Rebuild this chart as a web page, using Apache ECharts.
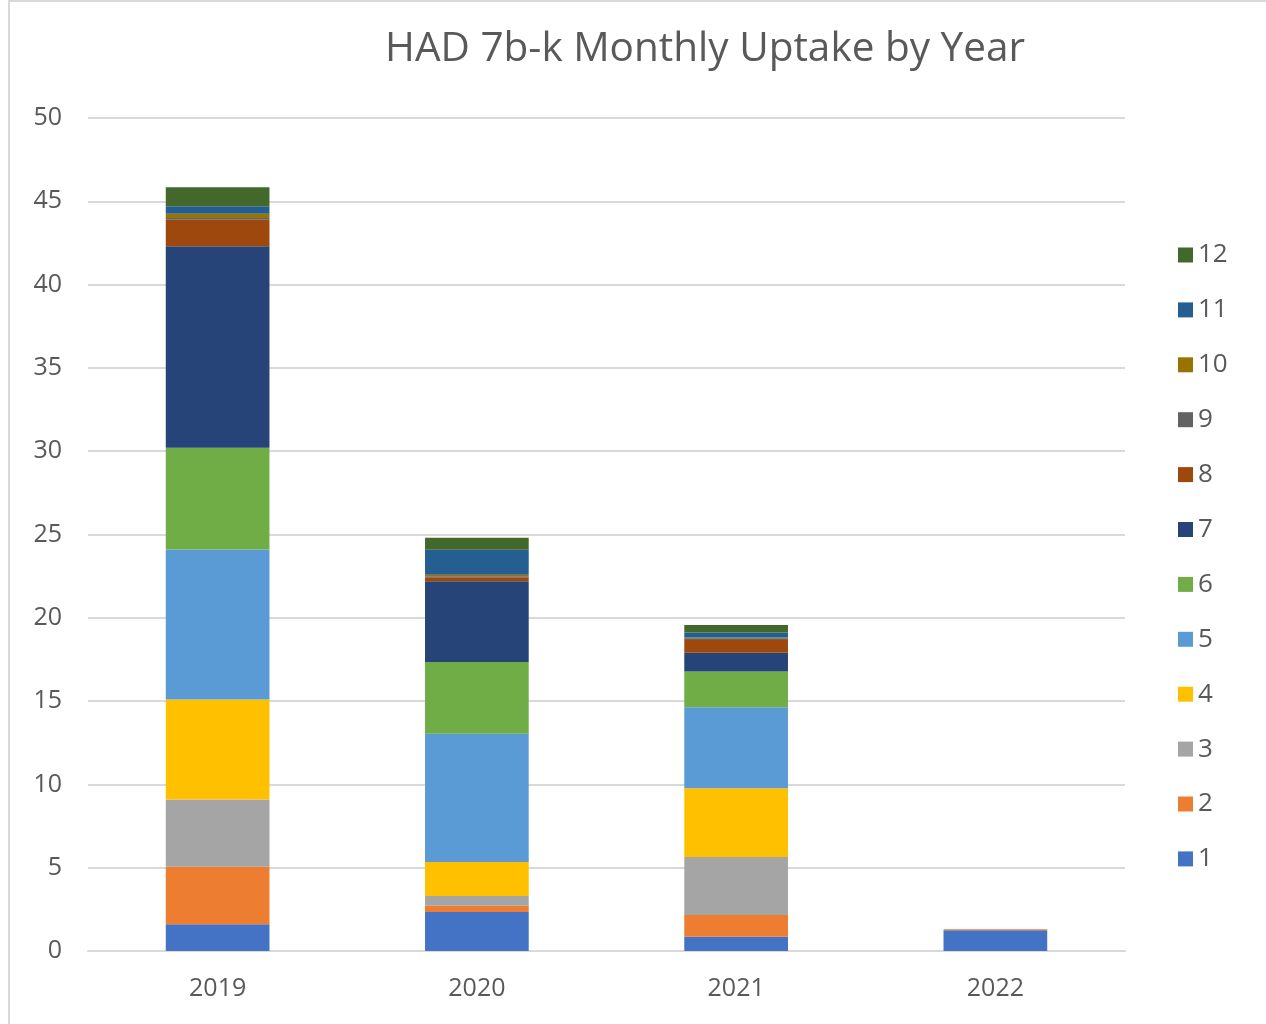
<!DOCTYPE html>
<html><head><meta charset="utf-8">
<script src="https://cdn.jsdelivr.net/npm/echarts@6/dist/echarts.min.js"></script>
<style>html,body{margin:0;padding:0;background:#fff}#c{width:1266px;height:1024px}</style>
</head><body><div id="c"></div>
<script>
const years = ['2019','2020','2021','2022'];
const months = ['1','2','3','4','5','6','7','8','9','10','11','12'];
const m1  = [1.6, 2.34, 0.86, 1.24];
const m2  = [3.45, 0.38, 1.3, 0.06];
const m3  = [4.05, 0.58, 3.48, 0];
const m4  = [6.0, 2.04, 4.13, 0];
const m5  = [9.0, 7.7, 4.86, 0];
const m6  = [6.1, 4.3, 2.14, 0];
const m7  = [12.1, 4.85, 1.13, 0];
const m8  = [1.6, 0.25, 0.77, 0];
const m9  = [0.1, 0.05, 0.1, 0];
const m10 = [0.25, 0.1, 0.05, 0];
const m11 = [0.45, 1.5, 0.3, 0];
const m12 = [1.15, 0.72, 0.45, 0];
const yTicks = [0,5,10,15,20,25,30,35,40,45,50];
const seriesData = [m1,m2,m3,m4,m5,m6,m7,m8,m9,m10,m11,m12];
const colors = ['#4472C4','#ED7D31','#A5A5A5','#FFC000','#5B9BD5','#70AD47','#264478','#9E480E','#636363','#997300','#255E91','#43682B'];

const chart = echarts.init(document.getElementById('c'));
chart.setOption({
  animation:false,
  title:{text:'HAD 7b-k Monthly Uptake by Year',left:700,top:24,textAlign:'center',
    textStyle:{fontFamily:'Open Sans',fontWeight:'normal',fontSize:40.5,color:'#595959'}},
  graphic:[{type:'rect',shape:{x:9,y:1,width:1258,height:1030},style:{fill:'none',stroke:'#d9d9d9',lineWidth:2},silent:true}],
  legend:{orient:'vertical',left:1173,top:237,itemGap:28.9,itemWidth:15,itemHeight:15,icon:'rect',
    data:months.slice().reverse(),
    textStyle:{fontFamily:'Open Sans',fontSize:26,lineHeight:26,color:'#595959',padding:[0,0,0,0]}},
  grid:{left:88,right:141,top:118,bottom:73},
  xAxis:{type:'category',data:years,
    axisLine:{lineStyle:{color:'#d9d9d9',width:2}},axisTick:{show:false},
    axisLabel:{fontFamily:'Open Sans',fontSize:25,color:'#595959',margin:25}},
  yAxis:{type:'value',min:0,max:50,interval:5,
    axisLine:{show:false},axisTick:{show:false},
    splitLine:{lineStyle:{color:'#d9d9d9',width:2}},
    axisLabel:{fontFamily:'Open Sans',fontSize:25,color:'#595959',margin:26,
      formatter:v=>yTicks.includes(v)?String(v):''}},
  series: seriesData.map((d,i)=>({name:months[i],type:'bar',stack:'total',data:d,barWidth:'40%',
    itemStyle:{color:colors[i]}}))
});
</script></body></html>
